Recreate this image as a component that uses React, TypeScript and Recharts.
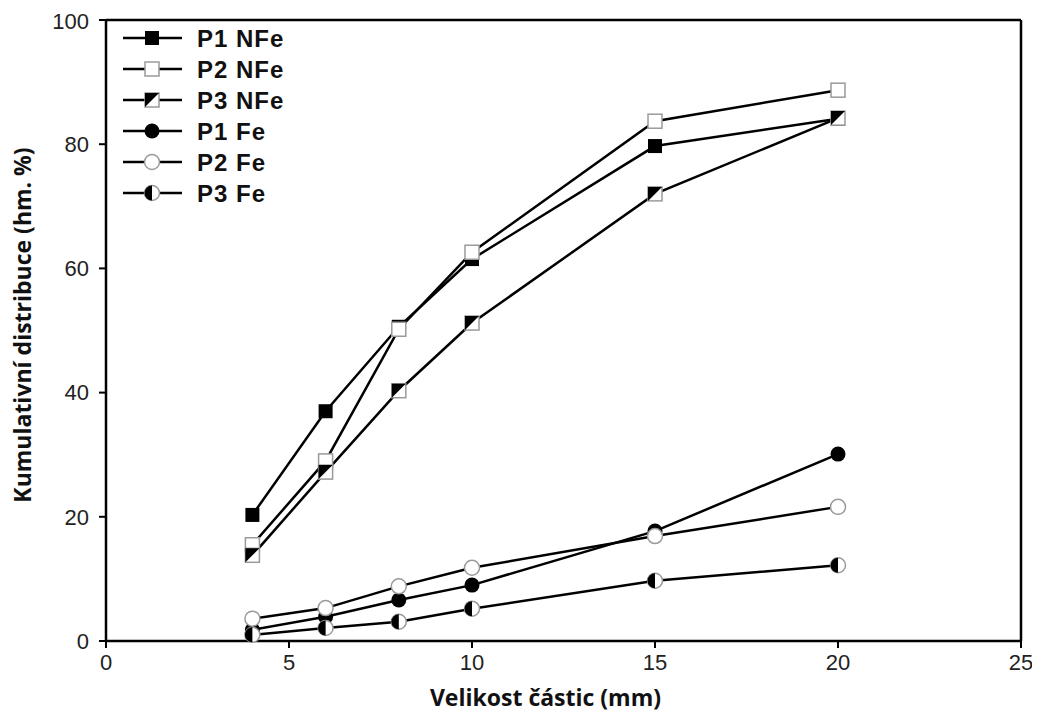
import React from 'react';
import { LineChart, Line, XAxis, YAxis, ReferenceLine, Legend } from 'recharts';

const sizes = [4, 6, 8, 10, 15, 20];
const p1NFe = [20.3, 37.0, 50.6, 61.5, 79.7, 84.1];
const p2NFe = [15.5, 29.0, 50.2, 62.6, 83.7, 88.7];
const p3NFe = [13.8, 27.2, 40.3, 51.2, 72.0, 84.2];
const p1Fe = [1.8, 3.9, 6.6, 9.0, 17.7, 30.1];
const p2Fe = [3.6, 5.3, 8.8, 11.8, 16.9, 21.6];
const p3Fe = [1.0, 2.1, 3.1, 5.2, 9.7, 12.2];
const xTicks = [0, 5, 10, 15, 20, 25];
const yTicks = [0, 20, 40, 60, 80, 100];

type Shape = 'fsq' | 'osq' | 'hsq' | 'fci' | 'oci' | 'hci';

const series: { key: string; name: string; shape: Shape; values: number[] }[] = [
  { key: 'p1NFe', name: 'P1 NFe', shape: 'fsq', values: p1NFe },
  { key: 'p2NFe', name: 'P2 NFe', shape: 'osq', values: p2NFe },
  { key: 'p3NFe', name: 'P3 NFe', shape: 'hsq', values: p3NFe },
  { key: 'p1Fe', name: 'P1 Fe', shape: 'fci', values: p1Fe },
  { key: 'p2Fe', name: 'P2 Fe', shape: 'oci', values: p2Fe },
  { key: 'p3Fe', name: 'P3 Fe', shape: 'hci', values: p3Fe },
];

const data = sizes.map((s, i) => {
  const row: Record<string, number> = { size: s };
  series.forEach((se) => {
    row[se.key] = se.values[i];
  });
  return row;
});

const GRAY = '#9a9a9a';

function marker(shape: Shape, cx: number, cy: number, key?: string) {
  const h = 7;
  const r = 7.5;
  switch (shape) {
    case 'fsq':
      return <rect key={key} x={cx - h} y={cy - h} width={2 * h} height={2 * h} fill="#000" />;
    case 'osq':
      return <rect key={key} x={cx - h} y={cy - h} width={2 * h} height={2 * h} fill="#fff" stroke={GRAY} strokeWidth={1.5} />;
    case 'hsq':
      return (
        <g key={key}>
          <rect x={cx - h} y={cy - h} width={2 * h} height={2 * h} fill="#fff" stroke={GRAY} strokeWidth={1.5} />
          <polygon points={`${cx - h},${cy - h} ${cx + h},${cy - h} ${cx - h},${cy + h}`} fill="#000" />
        </g>
      );
    case 'fci':
      return <circle key={key} cx={cx} cy={cy} r={r} fill="#000" />;
    case 'oci':
      return <circle key={key} cx={cx} cy={cy} r={r} fill="#fff" stroke={GRAY} strokeWidth={1.5} />;
    case 'hci':
    default:
      return (
        <g key={key}>
          <circle cx={cx} cy={cy} r={r} fill="#fff" stroke={GRAY} strokeWidth={1.5} />
          <path d={`M ${cx},${cy - r} A ${r} ${r} 0 0 0 ${cx},${cy + r} Z`} fill="#000" />
        </g>
      );
  }
}

const renderLegend = () => (
  <svg width={200} height={190} style={{ display: 'block' }}>
    {series.map((se, i) => {
      const y = 16 + i * 31;
      return (
        <g key={se.key}>
          <line x1={7} x2={66} y1={y} y2={y} stroke="#000" strokeWidth={2.5} />
          {marker(se.shape, 36, y)}
          <text
            x={81}
            y={y}
            dominantBaseline="central"
            fontFamily="'Liberation Sans', Arial, sans-serif"
            fontWeight="bold"
            fontSize={24}
            letterSpacing={1}
            fill="#111"
          >
            {se.name}
          </text>
        </g>
      );
    })}
  </svg>
);

const tickStyle = { fontFamily: "'Liberation Sans', Arial, sans-serif", fontSize: 22, fill: '#222' };

export default function App() {
  return (
    <div style={{ width: 1032, height: 712, position: 'relative', background: '#fff' }}>
      <LineChart width={1032} height={712} data={data} margin={{ top: 12, right: 19, left: 0, bottom: 0 }}>
        <XAxis
          dataKey="size"
          type="number"
          domain={[0, 25]}
          ticks={xTicks}
          tick={tickStyle}
          tickSize={7}
          tickMargin={6}
          height={79}
          axisLine={{ stroke: '#000', strokeWidth: 2.5 }}
          tickLine={{ stroke: '#000', strokeWidth: 2 }}
          label={{
            content: (p: any) => {
              const vb = p.viewBox;
              return (
                <text
                  x={vb.x + vb.width / 2 - 18}
                  y={689}
                  textAnchor="middle"
                  dominantBaseline="central"
                  fontFamily="'Open Sans', sans-serif"
                  fontWeight="bold"
                  fontSize={23}
                  fill="#111"
                >
                  Velikost částic (mm)
                </text>
              );
            },
          }}
        />
        <YAxis
          type="number"
          domain={[0, 100]}
          ticks={yTicks}
          tick={tickStyle}
          tickSize={7}
          tickMargin={10}
          width={98}
          axisLine={{ stroke: '#000', strokeWidth: 2.5 }}
          tickLine={{ stroke: '#000', strokeWidth: 2 }}
          label={{
            content: () => (
              <g transform="translate(14 317) rotate(-90)">
                <text
                  x={0}
                  y={0}
                  textAnchor="middle"
                  dominantBaseline="central"
                  fontFamily="'Open Sans', sans-serif"
                  fontWeight="bold"
                  fontSize={23}
                  fill="#111"
                >
                  Kumulativní distribuce (hm. %)
                </text>
              </g>
            ),
          }}
        />
        <ReferenceLine y={100} stroke="#000" strokeWidth={2.5} />
        <ReferenceLine x={25} stroke="#000" strokeWidth={2.5} />
        <Legend
          layout="vertical"
          align="center"
          verticalAlign="middle"
          content={renderLegend}
          wrapperStyle={{ position: 'absolute', left: 108, top: 14, width: 200, height: 190 }}
        />
        {series.map((se) => (
          <Line
            key={se.key}
            dataKey={se.key}
            name={se.name}
            stroke="#000"
            strokeWidth={2.5}
            isAnimationActive={false}
            dot={(p: any) => marker(se.shape, p.cx, p.cy, `${se.key}-${p.index}`)}
            activeDot={false}
          />
        ))}
      </LineChart>
    </div>
  );
}
